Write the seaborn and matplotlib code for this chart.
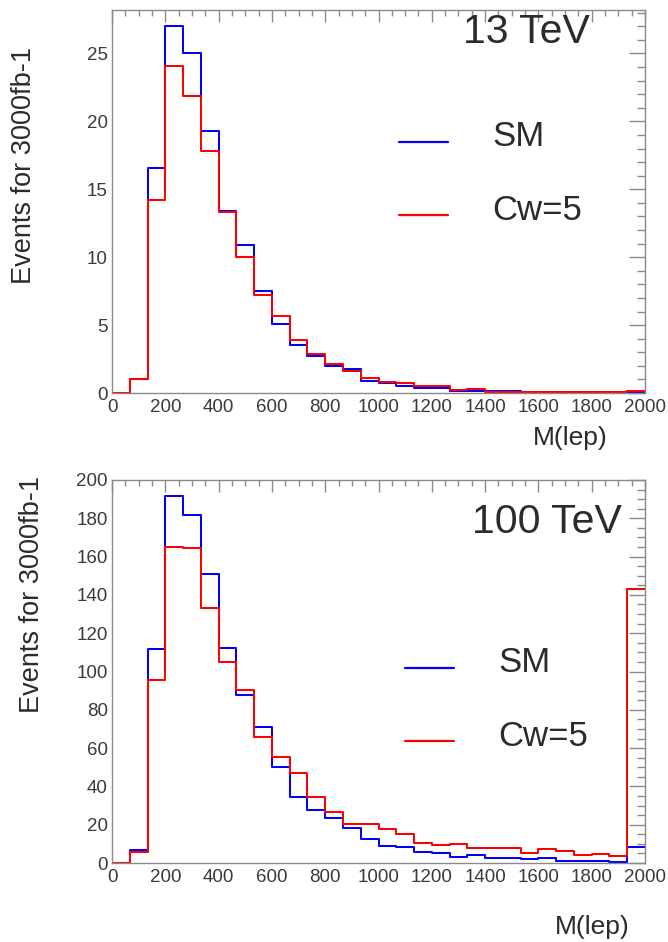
import numpy as np
import pandas as pd
import matplotlib
matplotlib.use("Agg")
import matplotlib.pyplot as plt
import matplotlib.transforms as mtransforms
import seaborn as sns
from matplotlib.ticker import MultipleLocator

# ---------------- data (30 bins of M(lep) from 0 to 2000) ----------------
bin_edges = [float(v) for v in np.linspace(0, 2000, 31)]
bin_centers = [0.5 * (a + b) for a, b in zip(bin_edges[:-1], bin_edges[1:])]

sm_13 = [0, 1.0, 16.6, 27.0, 25.0, 19.3, 13.4, 10.9, 7.5, 5.1,
         3.5, 2.75, 1.96, 1.75, 0.9, 0.71, 0.54, 0.34, 0.34, 0.17,
         0.17, 0.15, 0.15, 0.05, 0.05, 0.05, 0.05, 0.1, 0.05, 0.05]
cw5_13 = [0, 1.0, 14.2, 24.1, 21.9, 17.8, 13.3, 10.0, 7.2, 5.7,
          3.9, 2.85, 2.1, 1.65, 1.13, 0.83, 0.71, 0.51, 0.51, 0.22,
          0.29, 0.1, 0.1, 0.1, 0.1, 0.1, 0.1, 0.1, 0.1, 0.17]

sm_100 = [0, 7.0, 112, 191.5, 181.5, 151, 112.5, 87.5, 71, 50,
          34.5, 27.7, 23.5, 18.2, 12.4, 9.0, 8.3, 6.0, 5.0, 3.3,
          4.2, 2.4, 2.4, 2.1, 2.4, 1.2, 1.2, 1.2, 0.7, 8.3]
cw5_100 = [0, 5.6, 95.7, 165, 164.5, 133.4, 104.7, 90.4, 65.6, 55.5,
           47, 34.6, 26.6, 20.6, 20.6, 17.6, 15.0, 10.6, 9.4, 9.9,
           7.7, 7.7, 7.7, 5.4, 7.1, 6.4, 4.2, 4.5, 3.7, 143]

series_labels = ["SM", "Cw=5"]
panel_titles = ["13 TeV", "100 TeV"]
x_ticks = [0, 200, 400, 600, 800, 1000, 1200, 1400, 1600, 1800, 2000]
y_ticks_13 = [0, 5, 10, 15, 20, 25]
y_ticks_100 = [0, 20, 40, 60, 80, 100, 120, 140, 160, 180, 200]

# ---------------- style ----------------
sns.set_theme(style="white")
plt.rcParams["font.family"] = ["Liberation Sans", "DejaVu Sans"]
TEXT = "#2b2b2b"
TICKTEXT = "#3a3a3a"
FRAME = "#8a8a8a"

W, H = 668, 942
fig = plt.figure(figsize=(W / 100, H / 100), dpi=100)
fig.patch.set_facecolor("white")

def px_axes(left, top, right, bottom):
    return fig.add_axes([left / W, 1 - bottom / H, (right - left) / W, (bottom - top) / H])

ax1 = px_axes(112, 10, 645, 393)
ax2 = px_axes(112, 480, 645, 863)

panels = [
    (ax1, sm_13, cw5_13, 28.2, y_ticks_13, 1),
    (ax2, sm_100, cw5_100, 200, y_ticks_100, 5),
]

line_shift = mtransforms.ScaledTranslation(0, -0.08, fig.dpi_scale_trans)

for ax, sm, cw, ymax, yt, yminor in panels:
    df_sm = pd.DataFrame({"M": bin_centers, "events": sm})
    df_cw = pd.DataFrame({"M": bin_centers, "events": cw})
    sns.histplot(data=df_sm, x="M", weights="events", bins=bin_edges,
                 element="step", fill=False, color="#0000ff", linewidth=1.45, ax=ax)
    sns.histplot(data=df_cw, x="M", weights="events", bins=bin_edges,
                 element="step", fill=False, color="#ff0000", linewidth=1.45, ax=ax)
    ax.set_xlim(0, 2000)
    ax.set_ylim(0, ymax)
    ax.set_xticks(x_ticks)
    ax.set_yticks(yt)
    ax.xaxis.set_minor_locator(MultipleLocator(50))
    ax.yaxis.set_minor_locator(MultipleLocator(yminor))
    ax.tick_params(which="both", direction="in", top=True, right=True,
                   colors=FRAME, labelcolor=TICKTEXT, labelsize=13.5, width=1)
    ax.tick_params(axis="x", which="major", length=8.5, pad=4)
    ax.tick_params(axis="x", which="minor", length=4.5)
    ax.tick_params(axis="y", which="major", length=11.5, pad=3)
    ax.tick_params(axis="y", which="minor", length=6)
    for s in ax.spines.values():
        s.set_color(FRAME)
        s.set_linewidth(1)
    ax.set_ylabel("Events for 3000fb-1", fontsize=19.5, color=TEXT)
    ax.set_xlabel("M(lep)", fontsize=19, color=TEXT)
    ax.xaxis.label.set_ha("right")

    lines = ax.get_lines()
    leg = ax.legend(lines[:2], series_labels, loc="upper left", frameon=False,
                    fontsize=25, handlelength=1.4, handletextpad=1.3,
                    labelspacing=1.17, borderpad=0, borderaxespad=0,
                    labelcolor=TEXT)
    for h in leg.legend_handles:
        h.set_linewidth(1.6)
        h.set_transform(h.get_transform() + line_shift)

# legend/label/title placements (axes fractions)
ax1.legend_.set_bbox_to_anchor(((399 - 112) / 533, (393 - 120) / 383), transform=ax1.transAxes)
ax2.legend_.set_bbox_to_anchor(((405 - 112) / 533, (863 - 646) / 383), transform=ax2.transAxes)

ax1.text((590 - 112) / 533, (393 - 13) / 383, panel_titles[0], transform=ax1.transAxes,
         ha="right", va="top", fontsize=29.5, color=TEXT)
ax2.text((622 - 112) / 533, (863 - 503) / 383, panel_titles[1], transform=ax2.transAxes,
         ha="right", va="top", fontsize=29.5, color=TEXT)

ax1.yaxis.set_label_coords((37 - 112) / 533, (393 - 165) / 383)
ax2.yaxis.set_label_coords((45 - 112) / 533, (863 - 594) / 383)
ax1.xaxis.set_label_coords((608 - 112) / 533, (393 - 426) / 383)
ax2.xaxis.set_label_coords((630 - 112) / 533, (863 - 915) / 383)

fig.savefig("out.png", dpi=100, facecolor="white")
